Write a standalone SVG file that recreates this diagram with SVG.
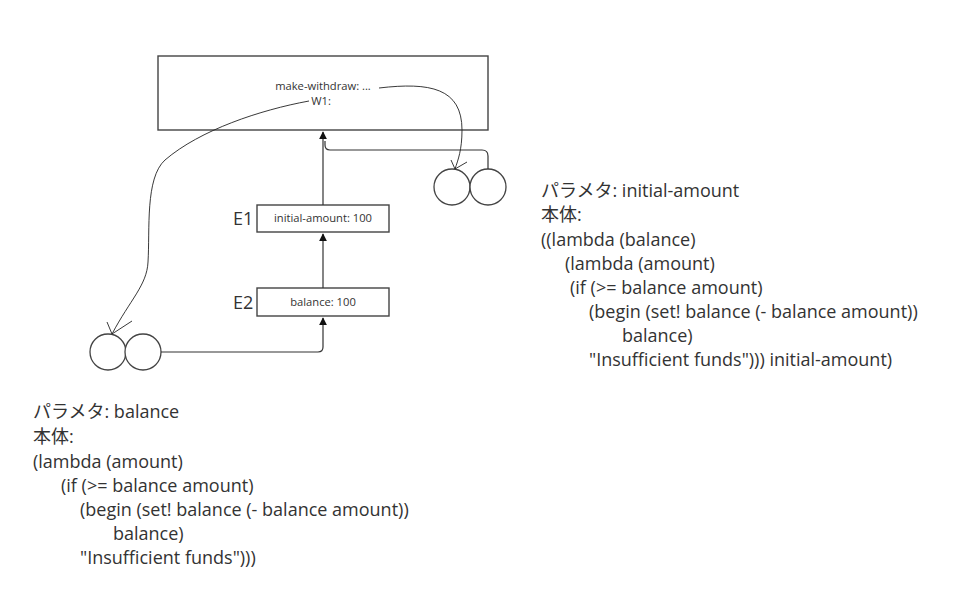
<svg xmlns="http://www.w3.org/2000/svg" width="960" height="596" viewBox="0 0 960 596">
<defs>
<style>
.t{font-family:"Open Sans","Noto Sans CJK JP",sans-serif;fill:#333;}
.s{font-size:11.2px;}
.b{font-size:18px;}
.box{fill:#fff;stroke:#444;stroke-width:1.4;}
.c{fill:#fff;stroke:#444;stroke-width:1.3;}
.ln{fill:none;stroke:#333;stroke-width:1.2;}
.thin{fill:none;stroke:#222;stroke-width:0.9;}
</style>
<marker id="ah" viewBox="0 0 10 10" refX="9" refY="5" markerWidth="8" markerHeight="8" markerUnits="userSpaceOnUse" orient="auto"><path d="M0,0 L10,5 L0,10 z" fill="#111"/></marker>
</defs>
<rect width="960" height="596" fill="#fff"/>
<g id="global">
<rect class="box" x="158" y="56" width="330" height="74"/>
<text class="t s" x="323" y="90" text-anchor="middle">make-withdraw: ...</text>
<text class="t s" x="321" y="104.5" text-anchor="middle">W1:</text>
</g>
<g id="E1">
<rect class="box" x="257" y="205" width="132" height="27"/>
<text class="t s" x="323" y="222" text-anchor="middle">initial-amount: 100</text>
<text class="t b" x="233" y="225">E1</text>
</g>
<g id="E2">
<rect class="box" x="257" y="288" width="132" height="28"/>
<text class="t s" x="323" y="306" text-anchor="middle">balance: 100</text>
<text class="t b" x="233" y="309">E2</text>
</g>
<g id="proc1">
<circle class="c" cx="452" cy="187" r="18"/>
<circle class="c" cx="488" cy="187" r="18"/>
</g>
<g id="proc2">
<circle class="c" cx="108" cy="352" r="18"/>
<circle class="c" cx="143" cy="352" r="18"/>
</g>
<g id="connectors">
<path class="ln" d="M323,205 L323,132" marker-end="url(#ah)"/>
<path class="ln" d="M323,288 L323,234" marker-end="url(#ah)"/>
<path class="ln" d="M161,352 L318,352 Q323,352 323,347 L323,318" marker-end="url(#ah)"/>
<path class="ln" d="M488,169 L488,156 Q488,150 482,150 L330,150 Q325,150 325,145 L325,141"/>
<path class="thin" d="M379,88 C430,82 462,88 462,130 C462,150 458,160 455,169"/>
<path class="thin" d="M455,169 L451,160 M455,169 L467,162"/>
<path class="thin" d="M309,101 C260,110 200,130 165,160 C145,178 150,230 148,262 C147,285 130,300 112,334"/>
<path class="thin" d="M112,334 L107,322 M112,334 L132,321"/>
</g>
<g id="text1">
<text class="t b" x="541" y="197">パラメタ: initial-amount</text>
<text class="t b" x="541" y="221">本体:</text>
<text class="t b" x="541" y="246">((lambda (balance)</text>
<text class="t b" x="565" y="270">(lambda (amount)</text>
<text class="t b" x="570" y="294">(if (&gt;= balance amount)</text>
<text class="t b" x="589" y="318">(begin (set! balance (- balance amount))</text>
<text class="t b" x="622" y="342">balance)</text>
<text class="t b" x="589" y="366">"Insufficient funds"))) initial-amount)</text>
</g>
<g id="text2">
<text class="t b" x="33" y="418">パラメタ: balance</text>
<text class="t b" x="33" y="443">本体:</text>
<text class="t b" x="33" y="468">(lambda (amount)</text>
<text class="t b" x="61" y="492">(if (&gt;= balance amount)</text>
<text class="t b" x="80" y="516">(begin (set! balance (- balance amount))</text>
<text class="t b" x="113" y="540">balance)</text>
<text class="t b" x="80" y="564">"Insufficient funds")))</text>
</g>
</svg>
